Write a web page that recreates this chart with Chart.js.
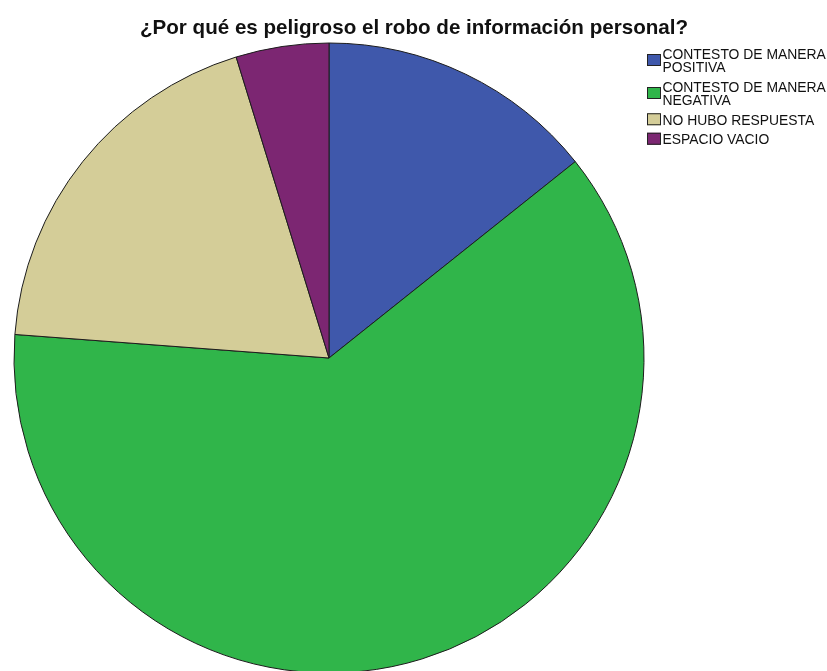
<!DOCTYPE html>
<html>
<head>
<meta charset="utf-8">
<title>Robo de información personal</title>
<script src="https://cdn.jsdelivr.net/npm/chart.js@4/dist/chart.umd.min.js"></script>
<style>
  html, body { margin: 0; padding: 0; background: #fff; }
  #wrap { width: 827px; height: 671px; overflow: hidden; position: relative; }
  canvas { display: block; }
</style>
</head>
<body>
<div id="wrap"><canvas id="pie" width="827" height="700"></canvas></div>
<script>
// Respuestas
const categories = [
  ["CONTESTO DE MANERA", "POSITIVA"],
  ["CONTESTO DE MANERA", "NEGATIVA"],
  ["NO HUBO RESPUESTA"],
  ["ESPACIO VACIO"]
];
const counts = [3, 13, 4, 1];
const sliceColors = ["#3f58ab", "#30b54a", "#d4cd98", "#7c2672"];
const chartTitle = "¿Por qué es peligroso el robo de información personal?";

// Title centred on the whole canvas, not on the pie area
const pageTitle = {
  id: "pageTitle",
  afterDraw(chart) {
    const ctx = chart.ctx;
    ctx.save();
    ctx.font = "bold 20.6px 'Liberation Sans', Arial, sans-serif";
    ctx.fillStyle = "#111";
    ctx.textAlign = "center";
    ctx.textBaseline = "alphabetic";
    ctx.fillText(chartTitle, chart.width / 2 + 0.5, 34);
    ctx.restore();
  }
};

// Legend at the top right, boxes next to the (wrapped) labels
const sideLegend = {
  id: "sideLegend",
  afterDraw(chart) {
    const ctx = chart.ctx;
    const lineH = 13.5, capH = 10.5, gap = 9;
    let top = 48;
    ctx.save();
    ctx.font = "13.9px 'Liberation Sans', Arial, sans-serif";
    ctx.textBaseline = "alphabetic";
    ctx.textAlign = "left";
    categories.forEach((lines, i) => {
      const blockH = (lines.length - 1) * lineH + capH;
      const boxY = top + blockH / 2 - 6;
      ctx.fillStyle = sliceColors[i];
      ctx.fillRect(647, boxY, 14, 12);
      ctx.strokeStyle = "#222";
      ctx.lineWidth = 1;
      ctx.strokeRect(647.5, boxY + 0.5, 13, 11);
      ctx.fillStyle = "#111";
      lines.forEach((t, j) => ctx.fillText(t, 662.5, top + capH + j * lineH));
      top += blockH + gap;
    });
    ctx.restore();
  }
};

new Chart(document.getElementById("pie"), {
  type: "pie",
  data: {
    labels: categories,
    datasets: [{
      data: counts,
      backgroundColor: sliceColors,
      borderColor: "#1c1c1c",
      borderWidth: 1
    }]
  },
  options: {
    responsive: false,
    animation: false,
    events: [],
    layout: { padding: { left: 13.5, right: 182.5, top: 42.5, bottom: 26.5 } },
    plugins: {
      legend: { display: false },
      tooltip: { enabled: false },
      title: { display: false }
    }
  },
  plugins: [pageTitle, sideLegend]
});
</script>
</body>
</html>
